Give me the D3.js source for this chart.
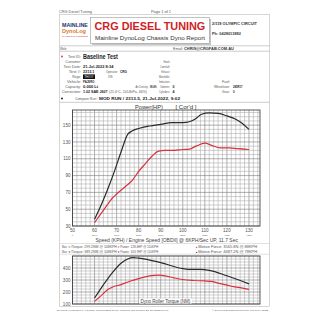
<!doctype html>
<html lang="en">
<head>
<meta charset="UTF-8">
<title>CRG Diesel Tuning - Dyno Report</title>
<script src="https://d3js.org/d3.v7.min.js"></script>
<style>
  body { margin: 0; background: #fff; }
  text { font-family: "Liberation Sans", Arial, sans-serif; }
</style>
</head>
<body>
<div id="page"></div>
<script>
// ---- data ----
var speedTicks = [50, 60, 70, 80, 90, 100, 110, 120, 130];
var rpmLabels = ["0", "2140", "2480", "2780", "3090", "3390", "3730", "4030", "4370"];
var powerTicks = [30, 50, 70, 90, 110, 130, 150];
var torqueTicks = [100, 200, 300, 400];

// [speed kph, power hp]
var powerBase = [[60,34],[63,45],[66,56],[68,63],[70,68],[74,77],[77,84],[80,95],[83,104],[86,113],[89,119],
  [92,120],[96,120],[100,121],[103,121.5],[106,125],[110,128.5],[113,126],[117,123],[121,123],[125,122],[130,121]];
var powerCompare = [[60,38],[63,55],[66,74],[69,95],[72,118],[75,139],[77,143],[80,146],[85,149],[90,151],
  [95,153],[100,153],[103,154],[106,158],[108.5,163],[112,164.5],[116,164],[120,161],[124,157],[127,152],[130,145]];
// [speed kph, torque Nm]
var torqueBase = [[60,122],[63,170],[66,220],[68,240],[72,262],[76,290],[80,312],[85,335],[89,340],[92,335],
  [96,318],[100,304],[105,296],[110,292],[113,288],[117,270],[122,248],[126,236],[130,222]];
var torqueCompare = [[60,150],[64,260],[68,360],[72,440],[75,475],[77.5,486],[80,482],[90,445],[100,395],
  [104,388],[108,388],[112,380],[120,335],[130,268]];

var infoLeft = [["Customer:", ""], ["Test Date:", "21-Jul-2022 8:34"], ["Test #:", "2313.1"], ["Rego:", "TH###"],
  ["Vehicle:", "PAJERO"], ["Capacity:", "0.000 Lt"], ["Correction:", "1.02 SAE J607"]];
var infoMid = [["Heads:", ""], ["Camshaft:", ""], ["Exhaust:", ""], ["Manifolds:", ""], ["Induction:", ""],
  ["Odometer:", "0"], ["Cylinders:", "4"]];
var infoRight = [["Fuel:", ""], ["Wheelsize:", "285R17"], ["Gear:", "0"]];

var legendBase = ["/Torque: 299.2NM @ 108KPH", "Power: 128.4HP @ 110KPH", "Motive Force: 3565.8N @ 88KPH"];
var legendCompare = ["/Torque: 389.2NM @ 108KPH", "Power: 163.7HP @ 110KPH", "Motive Force: 4687.2N @ 78KPH"];

var red = "#d8323c", dark = "#2b2b2b", grey = "#555";

var svg = d3.select("#page").append("svg")
    .attr("width", 320).attr("height", 320);

svg.append("rect").attr("width", 320).attr("height", 320).attr("fill", "#fff");

// text helper: with opts.len the text is squeezed to that width with a
// horizontal scale, so its box really is that wide
function label(x, y, str, size, opts) {
    opts = opts || {};
    var anchor = opts.anchor || "start";
    var t = svg.append("text")
        .attr("font-size", size)
        .attr("fill", opts.fill || grey)
        .attr("font-weight", opts.bold ? "bold" : "normal")
        .text(str);
    if (opts.len) {
        var w = t.node().getComputedTextLength() || opts.len;
        var x0 = anchor === "end" ? x - opts.len : anchor === "middle" ? x - opts.len / 2 : x;
        t.attr("transform", "translate(" + x0 + "," + y + ") scale(" + (opts.len / w) + ",1)");
    } else {
        t.attr("x", x).attr("y", y).attr("text-anchor", anchor);
    }
    return t;
}
function hline(x1, x2, y, col) {
    svg.append("line").attr("x1", x1).attr("x2", x2).attr("y1", y).attr("y2", y)
        .attr("stroke", col || "#aaa").attr("stroke-width", 0.6);
}

// page furniture
label(59, 12.5, "CRG Diesel Tuning", 3.6, {len: 33});
label(151, 12.5, "Page 1 of 1", 3.6, {len: 20});
svg.append("rect").attr("x", 59.5).attr("y", 14.5).attr("width", 210).attr("height", 292)
    .attr("fill", "none").attr("stroke", "#bbb").attr("stroke-width", 0.6);

// logo
label(62, 27, "MAINLINE", 5.5, {bold: true, fill: "#1d2f6e", len: 26});
label(62, 33, "DynoLog", 5.5, {bold: true, fill: "#e0742a", len: 24});
label(62, 37, "CHASSIS DYNAMOMETERS", 1.8, {fill: "#c03030", len: 26});

// title box
svg.append("rect").attr("x", 92).attr("y", 19).attr("width", 119).attr("height", 26).attr("fill", "#c4c4c4");
svg.append("rect").attr("x", 90.5).attr("y", 17.5).attr("width", 119).attr("height", 26)
    .attr("fill", "#fff").attr("stroke", "#999").attr("stroke-width", 0.6);
label(150, 30, "CRG DIESEL TUNING", 11, {bold: true, fill: "#d01e26", anchor: "middle", len: 111});
label(150, 39.5, "Mainline DynoLog Chassis Dyno Report", 5.6, {fill: "#333", anchor: "middle", len: 110});
label(212, 24.5, "2/119 OLYMPIC CIRCUIT", 3.8, {bold: true, fill: "#333", len: 45});
label(212, 34.5, "Ph: 0429013892", 3.8, {bold: true, fill: "#333", len: 29});

hline(59.5, 269.5, 45.8);
label(60, 49.6, "Web:", 3.6, {len: 7});
label(173, 49.6, "Email:", 3.6, {len: 10});
label(184, 49.6, "CHRIS@CRGFAB.COM.AU", 3.6, {bold: true, fill: "#333", len: 50});
hline(59.5, 269.5, 51.2);

// test info block
svg.append("circle").attr("cx", 62).attr("cy", 56.5).attr("r", 0.9).attr("fill", red);
label(81, 58, "Test ID:", 3.6, {anchor: "end", len: 13});
label(83, 59, "Baseline Test", 6.5, {bold: true, fill: "#222", len: 35});
infoLeft.forEach(function(d, i) {
    var y = 63 + i * 5;
    label(81, y, d[0], 3.6, {anchor: "end", len: d[0].length * 1.75});
    if (d[0] === "Rego:") {
        svg.append("rect").attr("x", 83).attr("y", y - 3.6).attr("width", 12).attr("height", 4.6).attr("fill", "#111");
        label(89, y, d[1], 3, {anchor: "middle", fill: "#fff", len: 9});
    } else if (d[1]) {
        label(83, y, d[1], 3.6, {bold: true, fill: "#222", len: d[1].length * 1.9});
    }
});
label(118, 73, "Operator:", 3.6, {anchor: "end", len: 12});
label(120, 73, "CRG", 3.6, {bold: true, fill: "#222", len: 7});
label(113, 78, "VIN:", 3.6, {anchor: "end", len: 5});
label(148.5, 88, "Air Density:", 3.6, {anchor: "end", len: 13});
label(150, 88, "98.4%", 3.6, {bold: true, fill: "#222", len: 6.5});
label(109, 93, "(21.6\u00b0C, 1014hPa, 46%)", 3.4, {len: 38});
infoMid.forEach(function(d, i) {
    var y = 63 + i * 5;
    label(170, y, d[0], 3.6, {anchor: "end", len: d[0].length * 1.1});
    if (d[1]) label(172.5, y, d[1], 3.6, {bold: true, fill: "#222", len: 2});
});
infoRight.forEach(function(d, i) {
    var y = 83 + i * 5;
    label(230, y, d[0], 3.6, {anchor: "end", len: d[0].length * 1.6});
    if (d[1]) label(233, y, d[1], 3.6, {bold: true, fill: "#222", len: d[1].length * 1.6});
});
svg.append("circle").attr("cx", 62).attr("cy", 98.5).attr("r", 0.9).attr("fill", "#111");
label(97, 100, "Compare Run:", 3.6, {anchor: "end", len: 22});
label(99, 100, "MOD RUN / 2313.5,   21-Jul-2022,     9:02", 3.6, {bold: true, fill: "#222", len: 81});
hline(59.5, 269.5, 102.3);

// ---- scales ----
var x = d3.scaleLinear().domain([50, 135]).range([72.5, 260]);
var yP = d3.scaleLinear().domain([30, 168]).range([226, 110]);
var yT = d3.scaleLinear().domain([100, 500]).range([304, 256]);

function gridPanel(yScale, minorStep, majorTicks) {
    var g = svg.append("g");
    var lo = yScale.domain()[0], hi = yScale.domain()[1];
    var xs = d3.range(50, 135.01, 2);
    g.selectAll(".vx").data(xs).join("line")
        .attr("x1", d => x(d)).attr("x2", d => x(d))
        .attr("y1", yScale.range()[0]).attr("y2", yScale.range()[1])
        .attr("stroke", d => d % 10 === 0 ? "#6e6e6e" : "#a8a8a8").attr("stroke-width", 0.55);
    var ys = d3.range(lo, hi + 0.01, minorStep);
    g.selectAll(".hy").data(ys).join("line")
        .attr("x1", x.range()[0]).attr("x2", x.range()[1])
        .attr("y1", d => yScale(d)).attr("y2", d => yScale(d))
        .attr("stroke", d => majorTicks.indexOf(d) >= 0 ? "#6e6e6e" : "#a8a8a8").attr("stroke-width", 0.55);
    g.append("rect").attr("x", x.range()[0]).attr("y", yScale.range()[1])
        .attr("width", x.range()[1] - x.range()[0]).attr("height", yScale.range()[0] - yScale.range()[1])
        .attr("fill", "none").attr("stroke", "#333").attr("stroke-width", 0.8);
    g.selectAll(".yl").data(majorTicks).join("text")
        .attr("x", x.range()[0] - 2).attr("y", d => yScale(d) + 1.6)
        .attr("text-anchor", "end").attr("font-size", 4.6).attr("fill", grey)
        .text(d => d);
}

function curve(data, yScale, col) {
    var line = d3.line().curve(d3.curveMonotoneX).x(d => x(d[0])).y(d => yScale(d[1]));
    svg.append("path").datum(data).attr("d", line)
        .attr("fill", "none").attr("stroke", col).attr("stroke-width", 1.2);
}

// ---- power panel ----
label(149, 108.5, "Power(HP)", 5.8, {anchor: "middle", fill: "#333", len: 28});
label(186, 108.5, "[ Cor'd ]", 5.8, {anchor: "middle", fill: "#333", len: 21});
gridPanel(yP, 5, powerTicks);
curve(powerCompare, yP, dark);
curve(powerBase, yP, red);

svg.append("g").selectAll("text").data(speedTicks).join("text")
    .attr("x", d => x(d)).attr("y", 231.5)
    .attr("text-anchor", "middle").attr("font-size", 4.6).attr("fill", grey).text(d => d);
svg.append("g").selectAll("text").data(rpmLabels).join("text")
    .attr("x", (d, i) => x(speedTicks[i])).attr("y", 235.5)
    .attr("text-anchor", "middle").attr("font-size", 2.4).attr("fill", grey).text(d => d);
label(167, 241.5, "Speed (KPH) / Engine Speed [OBDII] @ 6KPH/Sec UP, 11.7 Sec", 5, {anchor: "middle", fill: "#444", len: 143});

// legend
hline(60, 269.5, 243.5, "#ccc");
function legendRow(y, col, txt) {
    label(62, y, "Max:", 3.4, {len: 5.5});
    label(69.2, y, "\u25bc", 2.6, {fill: col, anchor: "middle"});
    label(70.8, y, txt[0], 3.4, {len: 46});
    label(118.6, y, "\u25bc", 2.6, {fill: col, anchor: "middle"});
    label(120.2, y, txt[1], 3.4, {len: 38});
    label(196.5, y, "\u25b2", 2.6, {fill: col, anchor: "middle"});
    label(198.2, y, txt[2], 3.4, {len: 59});
}
legendRow(248.3, red, legendBase);
legendRow(252.8, dark, legendCompare);
hline(60, 269.5, 254.2, "#ccc");

// ---- torque panel ----
gridPanel(yT, 25, torqueTicks);
curve(torqueCompare, yT, dark);
curve(torqueBase, yT, red);
svg.append("rect").attr("x", 139).attr("y", 298.5).attr("width", 53).attr("height", 5).attr("fill", "#fff");
label(165.5, 302.8, "Dyno Roller Torque (NM)", 4.6, {anchor: "middle", fill: "#444", len: 50});

// footer
label(57, 311, "Dynolog V1.2012.0.1.4  Config: 10/5/08  Eng Code: 0816/08  Cal  Printed 21-Jul-2022 09:07", 2.2, {len: 111});
label(268, 311, "\u00a9 Dynolog Dynamometers Pty Ltd 1999-2022", 2.2, {anchor: "end", len: 56});
</script>
</body>
</html>
